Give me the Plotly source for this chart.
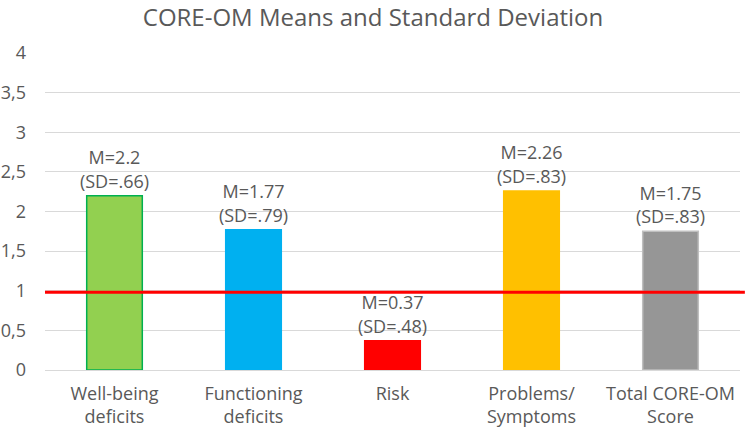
import plotly.graph_objects as go

categories = ["Well-being<br>deficits", "Functioning<br>deficits", "Risk", "Problems/<br>Symptoms", "Total CORE-OM<br>Score"]
means = [2.2, 1.77, 0.37, 2.26, 1.75]
sds = [".66", ".79", ".48", ".83", ".83"]
mean_labels = ["2.2", "1.77", "0.37", "2.26", "1.75"]
colors = ["#92D050", "#00B0F0", "#FF0000", "#FFC000", "#969696"]
outlines = ["#00B050", "#00B0F0", "#FF0000", "#FFC000", "#BFBFBF"]
threshold = 0.98
y_ticks = [0, 0.5, 1, 1.5, 2, 2.5, 3, 3.5, 4]

labels = [f"M={m}<br>(SD={s})" for m, s in zip(mean_labels, sds)]

FONT = "Open Sans, sans-serif"

fig = go.Figure()
fig.add_trace(go.Bar(
    x=categories, y=means,
    marker=dict(color=colors, line=dict(color=outlines, width=1.5)),
    text=labels, textposition="outside", constraintext="none",
    textfont=dict(size=18, color="#595959", family=FONT),
    cliponaxis=False,
    hoverinfo="skip",
))
fig.add_shape(type="line", xref="paper", yref="y", x0=0, x1=1.007,
              y0=threshold, y1=threshold, line=dict(color="#FF0000", width=3))

fig.update_layout(
    width=746, height=430,
    margin=dict(l=45, r=6, t=53, b=60),
    paper_bgcolor="white", plot_bgcolor="white",
    font=dict(family=FONT, color="#595959", size=18),
    title=dict(text="CORE-OM Means and Standard Deviation", x=0.5, xanchor="center",
               y=0.96, yanchor="middle", font=dict(size=24, color="#595959", family=FONT)),
    separators=", ",
    bargap=0.6,
    showlegend=False,
    xaxis=dict(showgrid=False, showline=False, ticks="", ticklabelstandoff=11,
               automargin=False,
               tickfont=dict(size=18, color="#595959", family=FONT)),
    yaxis=dict(range=[0, 4], tickvals=y_ticks, showgrid=True, gridcolor="#D9D9D9",
               gridwidth=1, zeroline=True, zerolinecolor="#D9D9D9", zerolinewidth=1,
               showline=False, ticks="", ticklabelstandoff=18, automargin=False,
               tickfont=dict(size=18, color="#595959", family=FONT), tickformat=".1~f"),
)

fig.write_html("out.html")
